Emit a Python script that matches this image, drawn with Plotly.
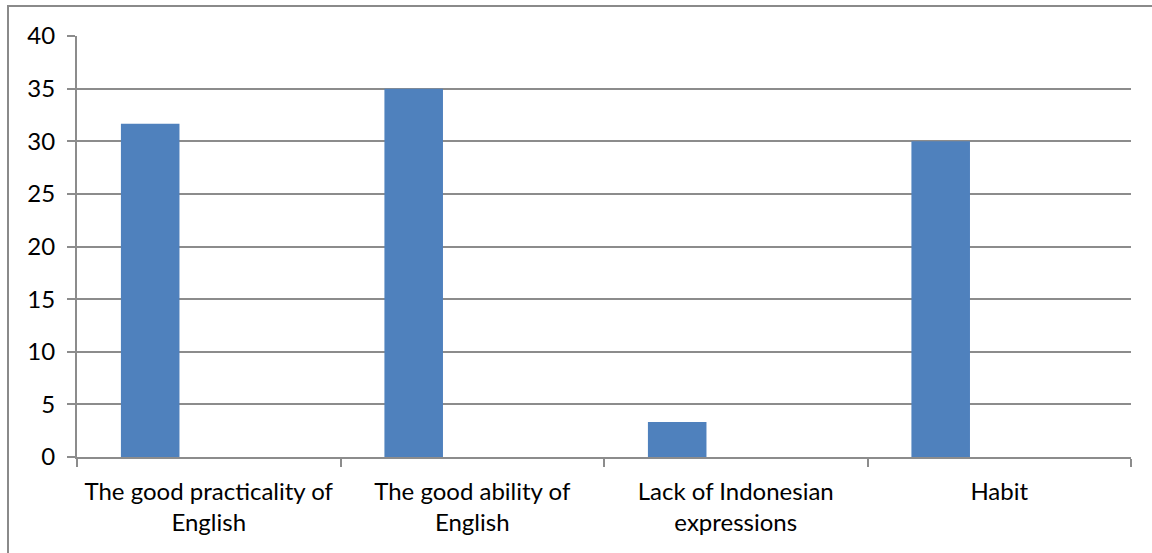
import plotly.graph_objects as go

categories = ["The good practicality of<br>English", "The good ability of<br>English",
              "Lack of Indonesian<br>expressions", "Habit"]
series1 = [31.67, 35, 3.33, 30]
series2 = [None, None, None, None]
series3 = [None, None, None, None]
y_ticks = [0, 5, 10, 15, 20, 25, 30, 35, 40]

W, H = 1152, 553
ml, mr, mt, mb = 77, 21, 36, 96
pw, ph = W - ml - mr, H - mt - mb
grid = "#8c8c8c"
font = dict(family="Lato, Open Sans, sans-serif", size=24, color="#000000")

fig = go.Figure()
for vals, name in [(series1, "S1"), (series2, "S2"), (series3, "S3")]:
    fig.add_trace(go.Bar(x=categories, y=vals, name=name,
                         marker=dict(color="#4F81BD", line=dict(width=0))))

def px_x(px):
    return (px - ml) / pw

def px_y(py):
    return (H - mb - py) / ph

fig.add_shape(type="rect", xref="paper", yref="paper",
              x0=px_x(8), x1=px_x(1170), y0=px_y(570), y1=px_y(6),
              line=dict(color="#8a8a8a", width=2), fillcolor="rgba(0,0,0,0)", layer="below")

fig.update_layout(
    width=W, height=H,
    margin=dict(l=ml, r=mr, t=mt, b=mb),
    barmode="group", bargap=1.5 / 4.5, bargroupgap=0,
    showlegend=False,
    plot_bgcolor="white", paper_bgcolor="white",
    font=font,
)
fig.update_xaxes(showgrid=False, showline=True, linecolor=grid, linewidth=2,
                 ticks="outside", tickson="boundaries", ticklen=8, tickcolor=grid, tickwidth=2,
                 tickfont=font, mirror=False, ticklabelstandoff=12)
fig.update_yaxes(range=[0, 40], tickvals=y_ticks, showgrid=True, gridcolor=grid, gridwidth=2,
                 showline=True, linecolor=grid, linewidth=2, zeroline=False,
                 ticks="outside", ticklen=8, tickcolor=grid, tickwidth=2,
                 tickfont=font, ticklabelstandoff=7)

fig.write_html("out.html")
